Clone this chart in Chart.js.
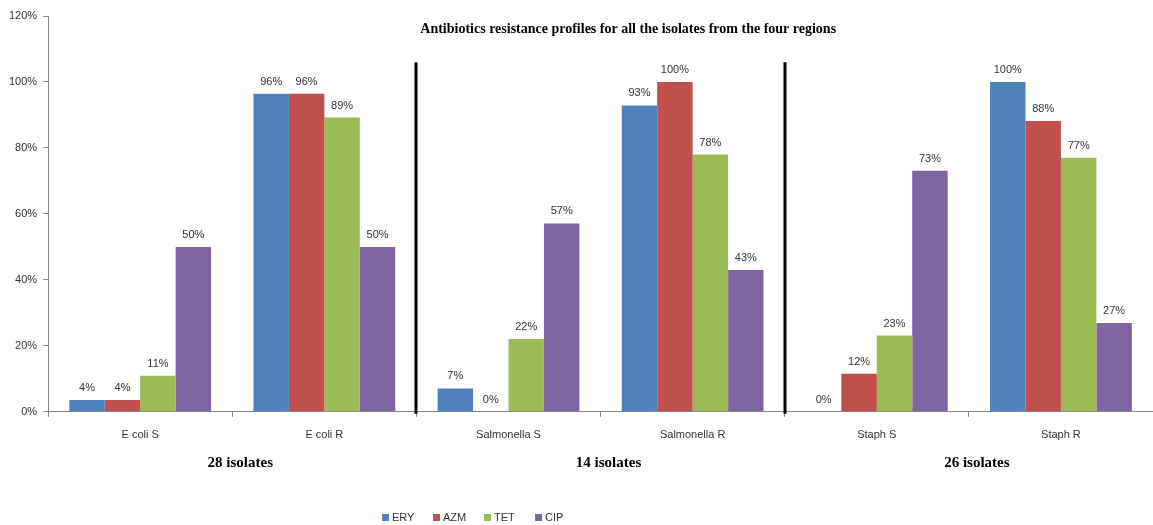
<!DOCTYPE html>
<html>
<head>
<meta charset="utf-8">
<script src="https://cdn.jsdelivr.net/npm/chart.js@4.4.0/dist/chart.umd.min.js"></script>
<style>
  html, body { margin: 0; padding: 0; background: #fff; }
  #wrap { width: 1153px; height: 525px; position: relative; }
</style>
</head>
<body>
<div id="wrap"><canvas id="myChart" width="1153" height="525"></canvas></div>
<script>
const categories = ["E coli S", "E coli R", "Salmonella S", "Salmonella R", "Staph S", "Staph R"];
const ery = [3.6, 96.4, 7.1, 92.9, 0, 100];
const azm = [3.6, 96.4, 0, 100, 11.5, 88.2];
const tet = [10.9, 89.2, 22.1, 78, 23.1, 77];
const cip = [50, 50, 57.1, 43, 73.1, 26.9];
const seriesNames = ["ERY", "AZM", "TET", "CIP"];
const seriesColors = ["#4F81BD", "#C0504D", "#9BBB59", "#8064A2"];
const groupLabels = ["28 isolates", "14 isolates", "26 isolates"];
const yTicks = [0, 20, 40, 60, 80, 100, 120];
const chartTitle = "Antibiotics resistance profiles for all the isolates from the four regions";

const sans = "'Liberation Sans', Arial, sans-serif";
const serif = "'Liberation Serif', 'Times New Roman', serif";

// value labels, separators, group captions, title and legend
const extras = {
  id: "extras",
  afterDatasetsDraw(chart) {
    const ctx = chart.ctx;
    const x = chart.scales.x;
    const y = chart.scales.y;
    const area = chart.chartArea;
    ctx.save();

    // labels above bars
    ctx.font = "11px " + sans;
    ctx.fillStyle = "#333";
    ctx.textAlign = "center";
    ctx.textBaseline = "alphabetic";
    chart.data.datasets.forEach((ds, i) => {
      chart.getDatasetMeta(i).data.forEach((bar, j) => {
        ctx.fillText(Math.round(ds.data[j]) + "%", bar.x, bar.y - 9);
      });
    });

    // thick separators between organisms
    ctx.strokeStyle = "#000";
    ctx.lineWidth = 3;
    [1.5, 3.5].forEach(v => {
      const px = Math.round(x.getPixelForValue(v));
      ctx.beginPath();
      ctx.moveTo(px, y.getPixelForValue(106));
      ctx.lineTo(px, y.getPixelForValue(0) + 2);
      ctx.stroke();
    });

    // title
    ctx.fillStyle = "#000";
    ctx.font = "bold 14px " + serif;
    ctx.textBaseline = "middle";
    ctx.fillText(chartTitle, area.left + (area.right - area.left) * 0.525, 29);

    // isolate counts
    ctx.font = "bold 15px " + serif;
    groupLabels.forEach((t, k) => {
      ctx.fillText(t, x.getPixelForValue(k * 2 + 0.5) + 8, 463);
    });

    // legend
    ctx.font = "11px " + sans;
    ctx.textAlign = "left";
    seriesNames.forEach((n, k) => {
      const lx = 382 + k * 51;
      ctx.fillStyle = seriesColors[k];
      ctx.fillRect(lx, 514, 7, 7);
      ctx.fillStyle = "#333";
      ctx.fillText(n, lx + 10, 518);
    });
    ctx.restore();
  }
};

const seriesData = [ery, azm, tet, cip];

new Chart(document.getElementById("myChart"), {
  type: "bar",
  data: {
    labels: categories,
    datasets: seriesNames.map((n, i) => ({
      label: n,
      data: seriesData[i],
      backgroundColor: seriesColors[i],
      borderWidth: 0,
      categoryPercentage: 0.77,
      barPercentage: 1.0,
    })),
  },
  options: {
    responsive: false,
    animation: false,
    maintainAspectRatio: false,
    layout: { padding: { top: 16, left: 3, right: 0, bottom: 71 } },
    plugins: {
      legend: { display: false },
      tooltip: { enabled: false },
      title: { display: false },
    },
    scales: {
      x: {
        grid: { drawOnChartArea: false, tickLength: 5, color: "#868686", offset: true },
        border: { color: "#868686", width: 1 },
        ticks: { color: "#333", font: { family: sans, size: 11 }, padding: 12, maxRotation: 0 },
      },
      y: {
        min: 0,
        max: 120,
        afterBuildTicks(scale) { scale.ticks = yTicks.map(v => ({ value: v })); },
        grid: { drawOnChartArea: false, tickLength: 5, color: "#868686" },
        border: { color: "#868686", width: 1 },
        ticks: { color: "#333", font: { family: sans, size: 11 }, padding: 6, callback: v => v + "%" },
      },
    },
  },
  plugins: [extras],
});
</script>
</body>
</html>
